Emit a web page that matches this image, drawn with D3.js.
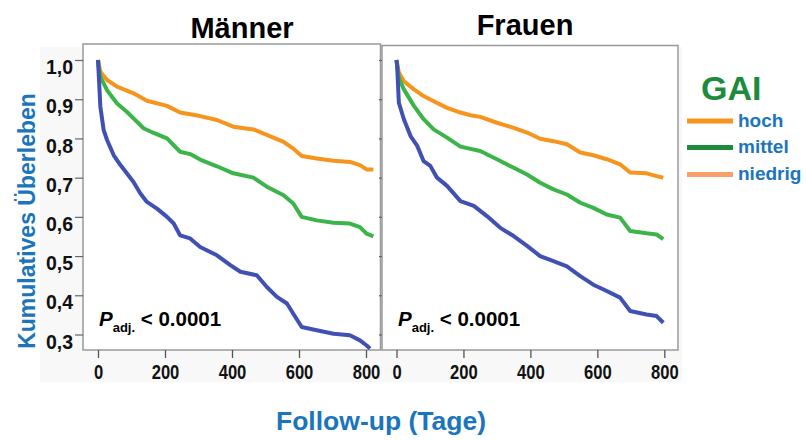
<!DOCTYPE html>
<html><head><meta charset="utf-8">
<script src="https://cdn.jsdelivr.net/npm/d3@7"></script>
<style>
html,body{margin:0;padding:0;background:#fff;}
svg{display:block;font-family:"Liberation Sans",Arial,sans-serif;}
.tick text{font-family:"Liberation Sans",Arial,sans-serif;font-weight:bold;}
</style>
</head><body>
<svg id="c" width="807" height="440"></svg>
<script>
// ---- data ----
const panelTitles = ["Männer", "Frauen"];
const groupNames = ["hoch", "mittel", "niedrig"];
const xTicks = [0, 200, 400, 600, 800];
const yTicks = [1.0, 0.9, 0.8, 0.7, 0.6, 0.5, 0.4, 0.3];
const pLabel = "< 0.0001";

const maennerHoch = [[0,1.0],[7,0.970],[27,0.949],[57,0.932],[106,0.915],[146,0.896],[206,0.883],[245,0.866],[305,0.857],[355,0.847],[404,0.830],[464,0.823],[504,0.809],[554,0.791],[583,0.774],[608,0.755],[653,0.749],[703,0.743],[752,0.740],[782,0.732],[802,0.721],[822,0.721]];
const maennerMittel = [[0,1.0],[2,0.983],[7,0.957],[27,0.923],[57,0.889],[86,0.868],[106,0.851],[136,0.826],[166,0.814],[206,0.800],[245,0.766],[275,0.760],[305,0.746],[355,0.729],[404,0.711],[464,0.700],[504,0.677],[554,0.655],[583,0.634],[608,0.600],[653,0.591],[703,0.585],[752,0.583],[782,0.574],[802,0.557],[822,0.550]];
const maennerNiedrig = [[0,1.0],[2,0.966],[7,0.881],[17,0.821],[27,0.796],[47,0.757],[67,0.732],[86,0.711],[106,0.689],[126,0.660],[146,0.638],[176,0.621],[206,0.600],[226,0.583],[245,0.553],[275,0.545],[305,0.523],[355,0.502],[395,0.477],[425,0.460],[474,0.451],[504,0.421],[534,0.396],[564,0.379],[583,0.353],[608,0.319],[653,0.311],[703,0.302],[752,0.298],[782,0.285],[802,0.272],[812,0.264]];
const frauenHoch = [[0,1.0],[7,0.968],[22,0.946],[52,0.925],[81,0.908],[111,0.895],[151,0.878],[191,0.866],[221,0.859],[250,0.855],[300,0.840],[350,0.827],[390,0.815],[429,0.799],[469,0.793],[509,0.785],[549,0.764],[588,0.757],[628,0.747],[668,0.734],[698,0.713],[747,0.711],[777,0.704],[797,0.700]];
const frauenMittel = [[0,1.0],[2,0.985],[7,0.955],[22,0.925],[52,0.883],[81,0.849],[111,0.823],[151,0.802],[191,0.779],[250,0.768],[300,0.747],[350,0.725],[390,0.708],[429,0.687],[469,0.670],[509,0.657],[549,0.636],[588,0.623],[628,0.606],[668,0.598],[698,0.564],[747,0.558],[777,0.555],[797,0.543]];
const frauenNiedrig = [[0,1.0],[2,0.985],[7,0.891],[22,0.849],[42,0.806],[62,0.781],[81,0.742],[101,0.730],[121,0.700],[151,0.679],[191,0.640],[231,0.628],[270,0.602],[310,0.572],[350,0.551],[390,0.526],[429,0.500],[469,0.487],[509,0.474],[549,0.449],[588,0.427],[628,0.411],[668,0.394],[698,0.360],[747,0.351],[777,0.347],[797,0.330]];

// ---- styles ----
const lineColors = ["#f7941d", "#3bb54a", "#4151b3"];
const legendColors = ["#f7941d", "#1e8b3c", "#f9a06a"];
const blueText = "#1b75bc";
const narrowScale = 0.83;

const svg = d3.select("#c");

// very light grey backdrop behind axes
svg.append("rect").attr("x", 40).attr("y", 47).attr("width", 642).attr("height", 335).attr("fill", "#f8f8f8");

const panels = [
  {title: panelTitles[0], series: [maennerHoch, maennerMittel, maennerNiedrig], fx0: 83, fx1: 380.5, fy0: 44, x0: 98, x1: 366, titleX: 242, titleY: 38, labels: true},
  {title: panelTitles[1], series: [frauenHoch, frauenMittel, frauenNiedrig], fx0: 382, fx1: 678, fy0: 45.5, x0: 396.5, x1: 664.3, titleX: 525, titleY: 35, labels: false}
];
const fy1 = 350;
const y = d3.scaleLinear().domain([0.3, 1.0]).range([334.5, 60]);

panels.forEach(p => {
  const x = d3.scaleLinear().domain([0, 800]).range([p.x0, p.x1]);
  svg.append("rect").attr("x", p.fx0).attr("y", p.fy0).attr("width", p.fx1 - p.fx0).attr("height", fy1 - p.fy0)
    .attr("fill", "#fff").attr("stroke", "#999").attr("stroke-width", 1.5);

  // x axis
  const gx = svg.append("g").attr("transform", `translate(0,${fy1})`)
    .call(d3.axisBottom(x).tickValues(xTicks).tickSize(8).tickPadding(6.5).tickFormat(d3.format("d")));
  gx.select(".domain").remove();
  gx.selectAll("line").attr("stroke", "#555").attr("stroke-width", 1.3);
  gx.selectAll("text").attr("font-size", 20).attr("fill", "#111")
    .attr("transform", `scale(${narrowScale},1)`);

  // y axis
  const gy = svg.append("g").attr("transform", `translate(${p.fx0},0)`)
    .call(d3.axisLeft(y).tickValues(yTicks).tickSize(p.labels ? 8 : 3).tickPadding(2)
      .tickFormat(p.labels ? (d => d3.format(".1f")(d).replace(".", ",")) : ""));
  gy.select(".domain").remove();
  gy.selectAll("line").attr("stroke", "#666").attr("stroke-width", 1.2);
  gy.selectAll("text").attr("font-size", 19.5).attr("fill", "#111").attr("dy", "0.7em");

  // curves
  const line = d3.line().x(d => x(d[0])).y(d => y(d[1])).curve(d3.curveLinear);
  p.series.forEach((s, i) => {
    svg.append("path").datum(s).attr("d", line).attr("fill", "none")
      .attr("stroke", lineColors[i]).attr("stroke-width", 4).attr("stroke-linejoin", "round");
  });

  // title
  svg.append("text").attr("x", p.titleX).attr("y", p.titleY).attr("text-anchor", "middle")
    .attr("font-size", 29).attr("font-weight", "bold").attr("fill", "#000").text(p.title);

  // p-value
  const t = svg.append("text").attr("x", p.fx0 + 16).attr("y", 326).attr("font-weight", "bold").attr("font-size", 20.5).attr("fill", "#000");
  t.append("tspan").attr("font-style", "italic").text("P");
  t.append("tspan").attr("font-size", 13).attr("dy", 6).text("adj.");
  t.append("tspan").attr("dy", -6).text(" " + pLabel);
});

// axis titles
svg.append("text").attr("transform", "translate(35,221) rotate(-90)").attr("text-anchor", "middle")
  .attr("font-size", 23).attr("font-weight", "bold").attr("fill", blueText).text("Kumulatives Überleben");
svg.append("text").attr("x", 381).attr("y", 430).attr("text-anchor", "middle")
  .attr("font-size", 26.5).attr("font-weight", "bold").attr("fill", blueText).text("Follow-up (Tage)");

// legend
svg.append("text").attr("x", 701).attr("y", 100).attr("font-size", 34).attr("font-weight", "bold")
  .attr("fill", "#1e8b3c").text("GAI");
const lg = svg.append("g");
groupNames.forEach((g, i) => {
  const yy = [121, 147.5, 174.5][i];
  lg.append("line").attr("x1", 687).attr("x2", 733).attr("y1", yy).attr("y2", yy)
    .attr("stroke", legendColors[i]).attr("stroke-width", 5);
  lg.append("text").attr("x", 738).attr("y", yy + 5.5).attr("font-size", 19).attr("font-weight", "bold")
    .attr("fill", blueText).text(g);
});
</script>
</body></html>
